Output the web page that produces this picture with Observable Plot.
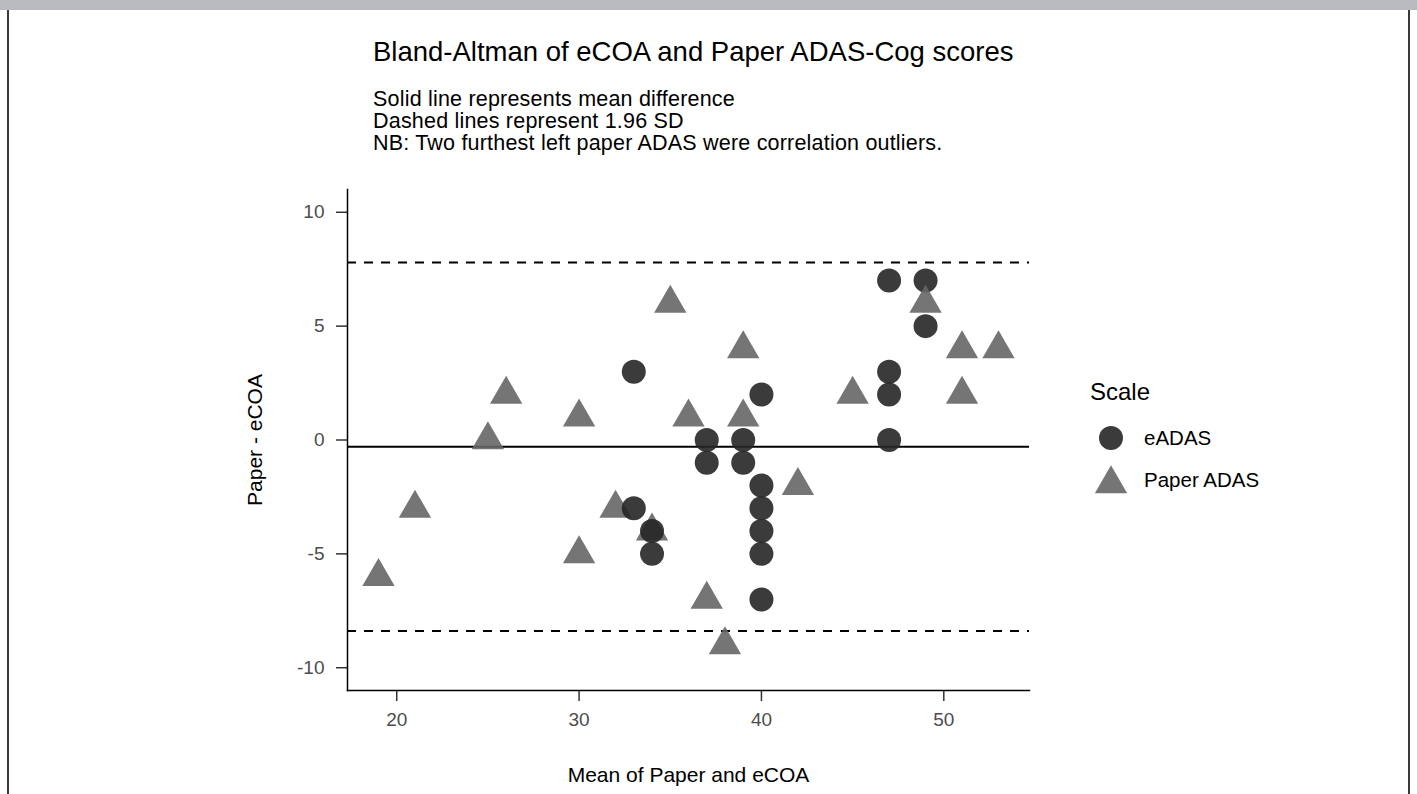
<!DOCTYPE html>
<html>
<head>
<meta charset="utf-8">
<script src="https://cdn.jsdelivr.net/npm/d3@7"></script>
<script src="https://cdn.jsdelivr.net/npm/@observablehq/plot@0.6"></script>
<style>
  html, body { margin: 0; padding: 0; background: #ffffff; }
  body { width: 1417px; height: 794px; position: relative; overflow: hidden;
         font-family: "Liberation Sans", Arial, Helvetica, sans-serif; color: #000; }
  #topband { position: absolute; left: 0; top: 0; width: 1417px; height: 10px; background: #b9babd; }
  .edge { position: absolute; top: 10px; bottom: 0; width: 2px; background: #3a3a3a; }
  .txt { position: absolute; white-space: nowrap; }
  #title { left: 373px; top: 36px; font-size: 27.5px; line-height: 32px; }
  #subtitle { left: 373px; top: 88px; font-size: 21.5px; line-height: 22px; letter-spacing: 0.2px; }
  #chart { position: absolute; left: 0; top: 170px; }
  #legend { position: absolute; left: 1090px; top: 377px; }
  #legend .ltitle { font-size: 24px; line-height: 30px; margin-bottom: 10px; }
  #legend .item { display: flex; align-items: center; height: 42px; font-size: 20.5px; }
  #legend .item svg { margin-left: 4px; margin-right: 16px; }
</style>
</head>
<body>
<div id="topband"></div>
<div class="edge" style="left:7px"></div>
<div class="edge" style="left:1408px"></div>
<div id="title" class="txt">Bland-Altman of eCOA and Paper ADAS-Cog scores</div>
<div id="subtitle" class="txt">Solid line represents mean difference<br>Dashed lines represent 1.96 SD<br>NB: Two furthest left paper ADAS were correlation outliers.</div>
<div id="chart"></div>
<div id="legend"></div>
<script>
// Mean of the two scores (x) and Paper minus eCOA difference (y), per scale
const eadasMean = [33, 33, 34, 34, 37, 37, 39, 39, 40, 40, 40, 40, 40, 40, 47, 47, 47, 47, 49, 49];
const eadasDiff = [3, -3, -4, -5, 0, -1, 0, -1, 2, -2, -3, -4, -5, -7, 7, 3, 2, 0, 7, 5];
const paperMean = [19, 21, 25, 26, 30, 30, 32, 34, 35, 36, 37, 38, 39, 39, 42, 45, 49, 51, 51, 53];
const paperDiff = [-6, -3, 0, 2, 1, -5, -3, -4, 6, 1, -7, -9, 4, 1, -2, 2, 6, 4, 2, 4];

const scales = ["eADAS", "Paper ADAS"];
const scaleFills = ["#262626", "#666666"];
const scaleSymbols = ["circle", "triangle"];
const xTicks = [20, 30, 40, 50];
const yTicks = [-10, -5, 0, 5, 10];

const rows = [
  ...eadasMean.map((m, i) => ({mean: m, diff: eadasDiff[i], scale: "eADAS"})),
  ...paperMean.map((m, i) => ({mean: m, diff: paperDiff[i], scale: "Paper ADAS"}))
].sort((a, b) => (a.mean - b.mean) || (b.diff - a.diff) || (a.scale === "Paper ADAS" ? -1 : 1));

// Bland-Altman statistics: mean difference and 1.96 SD limits of agreement
const diffs = rows.map(d => d.diff);
const meanDiff = d3.mean(diffs);
const sd = d3.deviation(diffs);
const limits = [meanDiff - 1.96 * sd, meanDiff + 1.96 * sd];

const font = '"Liberation Sans", Arial, Helvetica, sans-serif';

const chart = Plot.plot({
  width: 1417,
  height: 624,
  marginLeft: 347,
  marginRight: 388,
  marginTop: 19,
  marginBottom: 104,
  style: {fontFamily: font, fontSize: "18px", color: "#000", background: "transparent", overflow: "visible"},
  x: {domain: [17.3, 54.7]},
  y: {domain: [-11, 11]},
  color: {domain: scales, range: scaleFills},
  symbol: {domain: scales, range: scaleSymbols},
  marks: [
    Plot.ruleY([meanDiff], {stroke: "#000", strokeWidth: 2}),
    Plot.ruleY(limits, {stroke: "#000", strokeWidth: 2, strokeDasharray: "9,8"}),
    Plot.dot(rows, {x: "mean", y: "diff", symbol: "scale", fill: "scale", r: 12, fillOpacity: 0.9, stroke: "none"}),
    Plot.axisX({ticks: xTicks, tickSize: 11, tickPadding: 11, stroke: "#333", strokeWidth: 1.5, fill: "#4d4d4d", fontSize: 19, label: null}),
    Plot.axisY({ticks: yTicks, tickSize: 11, tickPadding: 12, stroke: "#333", strokeWidth: 1.5, fill: "#4d4d4d", fontSize: 19, label: null, tickFormat: d => String(d)}),
    Plot.frame({anchor: "left", stroke: "#000", strokeWidth: 1.5}),
    Plot.frame({anchor: "bottom", stroke: "#000", strokeWidth: 1.5}),
    Plot.text(["Paper - eCOA"], {text: d => d, frameAnchor: "left", dx: -92, rotate: -90, textAnchor: "middle", lineAnchor: "middle", fontSize: 21, fill: "#000"}),
    Plot.text(["Mean of Paper and eCOA"], {text: d => d, frameAnchor: "bottom", dy: 85, textAnchor: "middle", lineAnchor: "middle", fontSize: 21, fill: "#000"})
  ]
});
document.getElementById("chart").appendChild(chart);

// Legend for the shape/fill mapping
const legend = document.getElementById("legend");
const lt = document.createElement("div");
lt.className = "ltitle";
lt.textContent = "Scale";
legend.appendChild(lt);
scales.forEach((s, i) => {
  const item = document.createElement("div");
  item.className = "item";
  const sym = scaleSymbols[i] === "circle" ? d3.symbolCircle : d3.symbolTriangle;
  const svg = d3.create("svg").attr("width", 34).attr("height", 34);
  svg.append("path")
    .attr("transform", scaleSymbols[i] === "triangle" ? "translate(17,21)" : "translate(17,17)")
    .attr("d", d3.symbol(sym, Math.PI * 12 * 12)())
    .attr("fill", scaleFills[i])
    .attr("fill-opacity", 0.9);
  item.appendChild(svg.node());
  const label = document.createElement("span");
  label.textContent = s;
  item.appendChild(label);
  legend.appendChild(item);
});
</script>
</body>
</html>
